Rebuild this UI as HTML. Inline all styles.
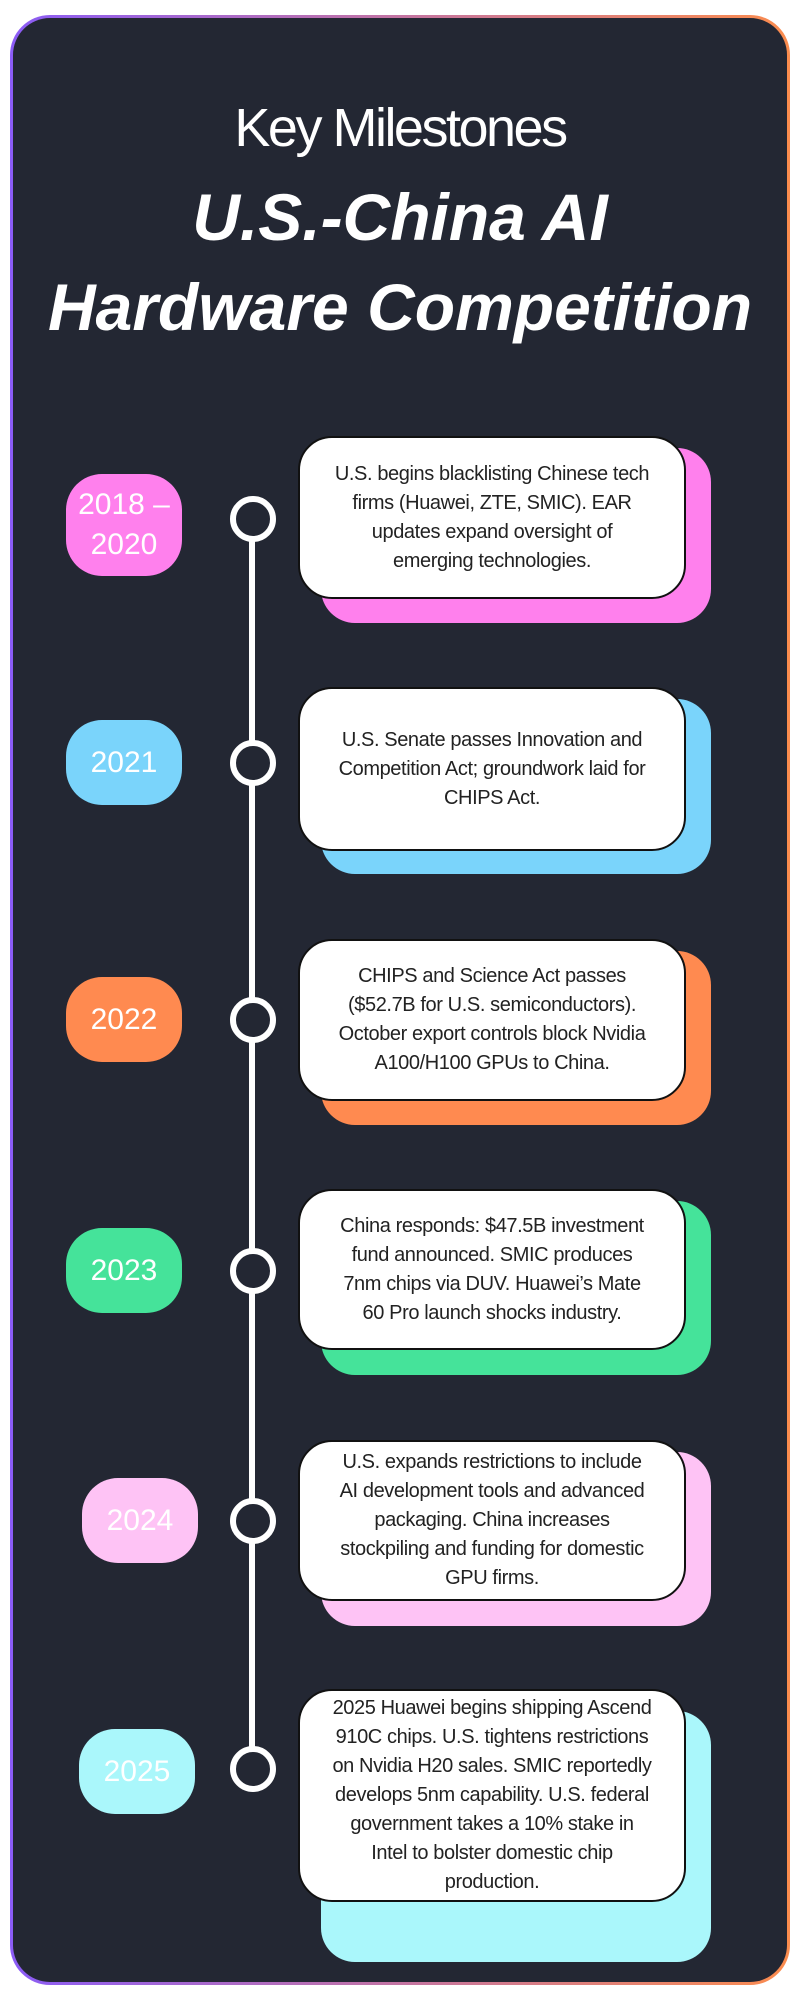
<!DOCTYPE html>
<html><head><meta charset="utf-8"><style>
body{margin:0;width:800px;height:2000px;background:#fff;position:relative;font-family:"Liberation Sans",sans-serif;overflow:hidden}
.frame{position:absolute;left:10px;top:15px;width:780px;height:1970px;border-radius:40px;background:linear-gradient(90deg,#8b5cf6,#fb8c4e)}
.inner{position:absolute;left:3px;top:3px;right:3px;bottom:3px;border-radius:37px;background:#232733}
.t1{position:absolute;left:0;width:800px;top:97px;text-align:center;color:#fff;font-size:54px;letter-spacing:-2.5px}
.t2{position:absolute;left:0;width:800px;top:172px;text-align:center;color:#fff;font-size:66px;font-weight:bold;font-style:italic;line-height:90px}
.line{position:absolute;left:249px;top:518px;width:6px;height:1250px;background:#fff}
.dot{position:absolute;width:34px;height:34px;border:6px solid #fff;border-radius:50%;background:#232733;left:230px}
.pill{position:absolute;width:116px;border-radius:36px;color:#fff;font-size:30px;display:flex;align-items:center;justify-content:center;text-align:center;line-height:40px}
.sh{position:absolute;left:321px;width:390px;border-radius:34px}
.card{position:absolute;left:298px;width:388px;background:#fff;border:2px solid #111;border-radius:34px;display:flex;align-items:center;justify-content:center;text-align:center;font-size:20px;line-height:29px;color:#222;padding:0 32px;box-sizing:border-box;letter-spacing:-0.4px}
</style></head><body>
<div class="frame"><div class="inner"></div></div>
<div class="t1">Key Milestones</div>
<div class="t2">U.S.-China AI<br>Hardware Competition</div>
<div class="line"></div>

<div class="pill" style="left:66px;top:474px;height:102px;background:#ff80ed">2018 –<br>2020</div>
<div class="dot" style="top:496px"></div>
<div class="sh" style="top:448px;height:175px;background:#ff80ed"></div>
<div class="card" style="top:436px;height:163px">U.S. begins blacklisting Chinese tech firms (Huawei, ZTE, SMIC). EAR updates expand oversight of emerging technologies.</div>

<div class="pill" style="left:66px;top:720px;height:85px;background:#7ad4fb">2021</div>
<div class="dot" style="top:740px"></div>
<div class="sh" style="top:699px;height:175px;background:#7ad4fb"></div>
<div class="card" style="top:687px;height:164px">U.S. Senate passes Innovation and Competition Act; groundwork laid for CHIPS Act.</div>

<div class="pill" style="left:66px;top:977px;height:85px;background:#ff8a50">2022</div>
<div class="dot" style="top:997px"></div>
<div class="sh" style="top:951px;height:174px;background:#ff8a50"></div>
<div class="card" style="top:939px;height:162px">CHIPS and Science Act passes ($52.7B for U.S. semiconductors). October export controls block Nvidia A100/H100 GPUs to China.</div>

<div class="pill" style="left:66px;top:1228px;height:85px;background:#45e39a">2023</div>
<div class="dot" style="top:1248px"></div>
<div class="sh" style="top:1201px;height:174px;background:#45e39a"></div>
<div class="card" style="top:1189px;height:161px">China responds: $47.5B investment fund announced. SMIC produces 7nm chips via DUV. Huawei’s Mate 60 Pro launch shocks industry.</div>

<div class="pill" style="left:82px;top:1478px;height:85px;background:#fec3f5">2024</div>
<div class="dot" style="top:1498px"></div>
<div class="sh" style="top:1452px;height:174px;background:#fec3f5"></div>
<div class="card" style="top:1440px;height:161px">U.S. expands restrictions to include AI development tools and advanced packaging. China increases stockpiling and funding for domestic GPU firms.</div>

<div class="pill" style="left:79px;top:1729px;height:85px;background:#aaf7fb">2025</div>
<div class="dot" style="top:1746px"></div>
<div class="sh" style="top:1711px;height:251px;background:#aaf7fb"></div>
<div class="card" style="top:1689px;height:213px">2025 Huawei begins shipping Ascend 910C chips. U.S. tightens restrictions on Nvidia H20 sales. SMIC reportedly develops 5nm capability. U.S. federal government takes a 10% stake in Intel to bolster domestic chip production.</div>
</body></html>
